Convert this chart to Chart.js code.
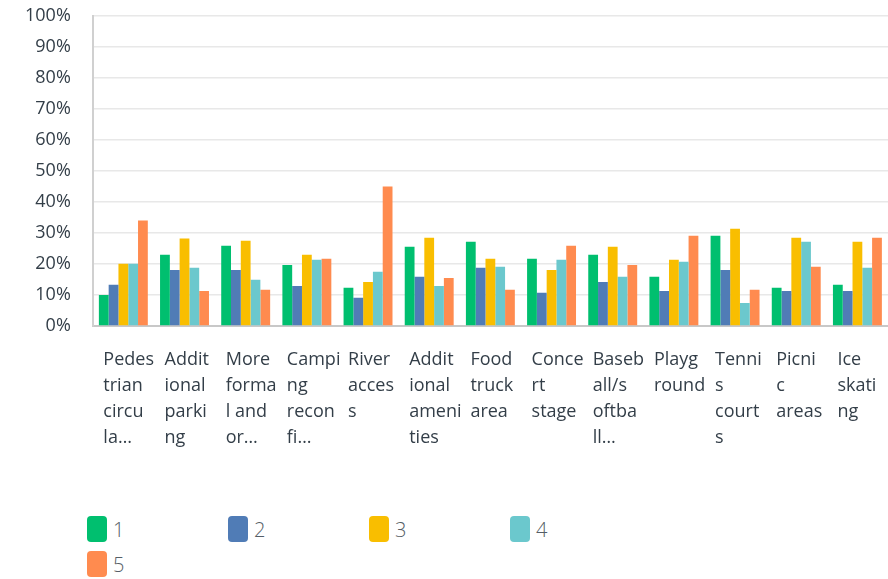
<!DOCTYPE html>
<html>
<head>
<meta charset="utf-8">
<script src="https://cdn.jsdelivr.net/npm/chart.js@4/dist/chart.umd.min.js"></script>
<style>
    body { margin: 0; background: #fff; font-family: "Open Sans", sans-serif; }
    #wrap { position: relative; width: 888px; height: 579px; overflow: hidden; }
    #chartBox { position: absolute; left: 0; top: 0; width: 888px; height: 480px; }
    #legend {
        position: absolute; left: 87px; top: 516px;
        display: grid; grid-template-columns: repeat(4, 141px); row-gap: 9px;
    }
    .leg-item { display: flex; align-items: center; height: 26px; }
    .leg-box { width: 20px; height: 26px; border-radius: 4px; margin-right: 6px; }
    .leg-text { font-size: 20px; font-weight: 300; color: #555e66; }
</style>
</head>
<body>
<div id="wrap">
    <div id="chartBox"><canvas id="chart"></canvas></div>
    <div id="legend"></div>
</div>
<script>
// category labels, already wrapped the way the source shows them
const categories = [
    ['Pedes', 'trian', 'circu', 'la…'],
    ['Addit', 'ional', 'parki', 'ng'],
    ['More', 'forma', 'l and', 'or…'],
    ['Campi', 'ng', 'recon', 'fi…'],
    ['River', 'acces', 's'],
    ['Addit', 'ional', 'ameni', 'ties'],
    ['Food', 'truck', 'area'],
    ['Conce', 'rt', 'stage'],
    ['Baseb', 'all/s', 'oftba', 'll…'],
    ['Playg', 'round'],
    ['Tenni', 's', 'court', 's'],
    ['Picni', 'c', 'areas'],
    ['Ice', 'skati', 'ng']
];

const seriesNames = ['1', '2', '3', '4', '5'];
const seriesColors = ['#00bf6f', '#507cb6', '#f9be00', '#6bc8cd', '#ff8b4f'];

const rating1 = [10.0, 23.0, 25.9, 19.7, 12.3, 25.6, 27.2, 21.7, 23.0, 15.9, 29.1, 12.3, 13.3];
const rating2 = [13.3, 18.1, 18.1, 12.9, 9.1, 15.9, 18.8, 10.7, 14.2, 11.3, 18.1, 11.3, 11.3];
const rating3 = [20.1, 28.2, 27.5, 23.0, 14.2, 28.5, 21.7, 18.1, 25.6, 21.4, 31.4, 28.5, 27.2];
const rating4 = [20.1, 18.8, 14.9, 21.4, 17.5, 12.9, 19.1, 21.4, 15.9, 20.7, 7.4, 27.2, 18.8];
const rating5 = [34.0, 11.3, 11.7, 21.7, 45.0, 15.5, 11.7, 25.9, 19.7, 29.1, 11.7, 19.1, 28.5];

const yTicks = [0, 10, 20, 30, 40, 50, 60, 70, 80, 90, 100];

const allSeries = [rating1, rating2, rating3, rating4, rating5];

const textColor = '#333e48';
const font = { family: '"Open Sans", sans-serif', size: 18 };

const chart = new Chart(document.getElementById('chart'), {
    type: 'bar',
    data: {
        labels: categories,
        datasets: allSeries.map((vals, i) => ({
            label: seriesNames[i],
            data: vals,
            backgroundColor: seriesColors[i],
            categoryPercentage: 0.8,
            barPercentage: 1.0
        }))
    },
    options: {
        responsive: true,
        maintainAspectRatio: false,
        animation: false,
        layout: { padding: { left: 3, top: 16, right: 0, bottom: 8 } },
        plugins: {
            legend: { display: false },
            tooltip: { enabled: false }
        },
        scales: {
            x: {
                grid: { display: false, drawTicks: false },
                border: { color: '#c8c8c8', width: 2 },
                ticks: {
                    color: textColor,
                    font: { ...font, lineHeight: 26 / 18 },
                    autoSkip: false,
                    maxRotation: 0,
                    minRotation: 0,
                    align: 'start',
                    labelOffset: -20,
                    padding: 21
                },
                afterFit: s => { s.paddingLeft = 0; s.paddingRight = 0; }
            },
            y: {
                min: 0,
                max: 100,
                afterBuildTicks: s => { s.ticks = yTicks.map(v => ({ value: v })); },
                grid: { color: '#e8e8e8', lineWidth: 1.5, drawTicks: false },
                border: { color: '#d0d0d0', width: 2 },
                ticks: {
                    color: textColor,
                    font: font,
                    padding: 22,
                    callback: v => v + '%'
                },
                afterFit: s => { s.paddingTop = 0; s.paddingBottom = 0; }
            }
        }
    }
});

// legend laid out in fixed columns like the source
const legend = document.getElementById('legend');
seriesNames.forEach((name, i) => {
    const item = document.createElement('div');
    item.className = 'leg-item';
    item.innerHTML = `<span class="leg-box" style="background:${seriesColors[i]}"></span><span class="leg-text">${name}</span>`;
    legend.appendChild(item);
});
</script>
</body>
</html>
